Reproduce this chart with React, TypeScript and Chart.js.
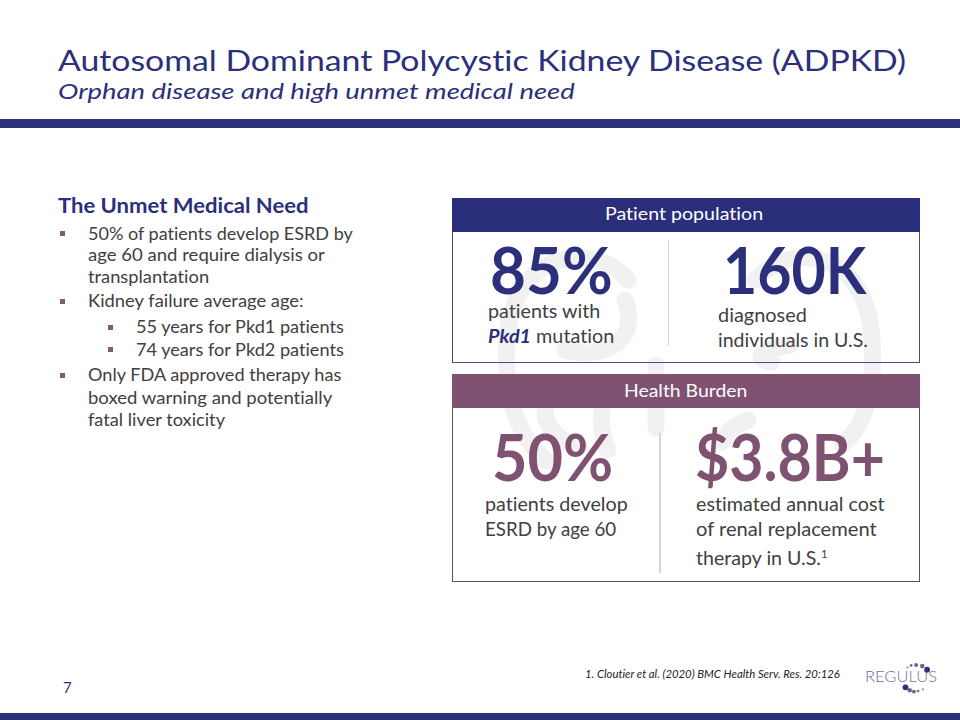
import React, { useEffect, useLayoutEffect, useRef, useState } from "react";
import { Chart, registerables } from "chart.js";

Chart.register(...registerables);

// ---- Data ----
const titleText = "Autosomal Dominant Polycystic Kidney Disease (ADPKD)";
const subtitleText = "Orphan disease and high unmet medical need";
const needHeading = "The Unmet Medical Need";
const kpiValues = ["85%", "160K", "50%", "$3.8B+"];
const boxHeaders = ["Patient population", "Health Burden"];
const footnote = "1. Cloutier et al. (2020) BMC Health Serv. Res. 20:126";
const pageNumber = "7";

// logo dots (scatter, in logo units)
const logoDotX = [13.7, 18, 24, 31.3, 37, 11.3, 16.3, 21.3, 26.3, 32];
const logoDotY = [13.7, 11.3, 10.7, 12, 16.3, 37.3, 40.7, 42.3, 41.7, 39.7];
const logoDotR = [1.1, 1.4, 1.9, 2.3, 2.9, 2.9, 2.3, 1.9, 1.4, 1.1];
const logoDotColor = ["#9a7f9c", "#8b6d8c", "#7d5b7c", "#7d5b7c", "#2b2f7e", "#2b2f7e", "#7d5b7c", "#7d5b7c", "#8b6d8c", "#9a7f9c"];

const NAVY = "#2b2f7c";
const PURPLE = "#7f5271";
const GRAY = "#404040";
const FONT = "Lato, 'Open Sans', sans-serif";

type TxtProps = {
  x: number;
  base: number;
  size: number;
  w?: number;
  lh?: number;
  weight?: number;
  italic?: boolean;
  color?: string;
  children: React.ReactNode;
};

function Txt({ x, base, size, w, lh = 1.05, weight = 400, italic = false, color = GRAY, children }: TxtProps) {
  const ref = useRef<HTMLSpanElement>(null);
  const [sx, setSx] = useState(1);
  useLayoutEffect(() => {
    if (w && ref.current) {
      const m = ref.current.offsetWidth;
      if (m > 0) setSx(w / m);
    }
  }, [w]);
  const L = lh * size;
  const top = base - ((L - 1.2 * size) / 2 + 0.987 * size);
  return (
    <span
      ref={ref}
      style={{
        position: "absolute",
        left: x,
        top,
        height: L,
        fontSize: size,
        lineHeight: `${L}px`,
        fontFamily: FONT,
        fontWeight: weight,
        fontStyle: italic ? "italic" : "normal",
        fontVariantLigatures: "none",
        color,
        whiteSpace: "nowrap",
        transform: `scaleX(${sx})`,
        transformOrigin: "0 0",
      }}
    >
      {children}
    </span>
  );
}

function Bullet({ x, base }: { x: number; base: number }) {
  return (
    <div
      style={{
        position: "absolute",
        left: x,
        top: base - 10,
        width: 5,
        height: 5,
        background: "#7d5b7a",
      }}
    />
  );
}

function Logo() {
  const ref = useRef<HTMLCanvasElement>(null);
  useEffect(() => {
    const chart = new Chart(ref.current as HTMLCanvasElement, {
      type: "scatter",
      data: {
        datasets: [
          {
            data: logoDotX.map((x, i) => ({ x, y: logoDotY[i] })),
            pointRadius: logoDotR,
            pointBackgroundColor: logoDotColor,
            pointBorderWidth: 0,
            showLine: false,
          } as any,
        ],
      },
      options: {
        responsive: false,
        animation: false,
        events: [],
        layout: { padding: 0 },
        plugins: { legend: { display: false }, tooltip: { enabled: false } },
        scales: {
          x: { type: "linear", min: 0, max: 50, display: false },
          y: { type: "linear", min: 0, max: 50, reverse: true, display: false },
        },
      },
    });
    return () => chart.destroy();
  }, []);
  return (
    <canvas
      ref={ref}
      width={50}
      height={50}
      style={{ position: "absolute", left: 892, top: 652, width: 50, height: 50 }}
    />
  );
}

function Watermark() {
  const s = { fill: "none", stroke: "#f1f1f1", strokeWidth: 17, strokeLinecap: "round" as const };
  return (
    <svg width={960} height={720} style={{ position: "absolute", left: 0, top: 0 }}>
      {/* left kidney */}
      <path d="M 628 280 C 595 240, 512 250, 507 340 C 503 400, 520 440, 548 462" {...s} />
      <path d="M 625 300 C 640 335, 610 362, 565 350" {...s} />
      <path d="M 548 400 C 538 420, 555 440, 580 447" {...s} />
      {/* right kidney */}
      <path d="M 755 280 C 790 240, 868 250, 872 340 C 876 400, 860 430, 842 445" {...s} />
      <path d="M 790 345 C 760 350, 752 360, 772 362" {...s} />
      <path d="M 748 420 C 735 425, 726 433, 722 442" {...s} />
      {/* centre stems */}
      <path d="M 602 405 C 600 425, 603 440, 608 450" {...s} />
      <path d="M 656 365 L 656 428" {...s} />
    </svg>
  );
}

export default function App() {
  return (
    <div
      style={{
        position: "absolute",
        left: 0,
        top: 0,
        width: 960,
        height: 720,
        overflow: "hidden",
        background: "#ffffff",
        fontFamily: FONT,
      }}
    >
      {/* Title */}
      <Txt x={58} base={72} size={28} w={848} color={NAVY}>{titleText}</Txt>
      <Txt x={58} base={99} size={22} w={517} italic color={NAVY}>{subtitleText}</Txt>
      <div style={{ position: "absolute", left: 0, top: 119, width: 960, height: 9, background: "#2a3079" }} />

      {/* Left column */}
      <Txt x={58} base={213.5} size={21} w={251} weight={700} color={NAVY}>{needHeading}</Txt>
      <Bullet x={60} base={241} />
      <Txt x={88} base={241} size={17.7} w={265}>50% of patients develop ESRD by</Txt>
      <Txt x={88} base={262.5} size={17.7} w={237}>age 60 and require dialysis or</Txt>
      <Txt x={88} base={284} size={17.7} w={121}>transplantation</Txt>
      <Bullet x={60} base={308.5} />
      <Txt x={88} base={308.5} size={17.7} w={216}>Kidney failure average age:</Txt>
      <Bullet x={108} base={334.5} />
      <Txt x={136} base={334.5} size={17.7} w={208}>55 years for Pkd1 patients</Txt>
      <Bullet x={108} base={357} />
      <Txt x={136} base={357} size={17.7} w={208}>74 years for Pkd2 patients</Txt>
      <Bullet x={60} base={382.5} />
      <Txt x={88} base={382.5} size={17.7} w={253}>Only FDA approved therapy has</Txt>
      <Txt x={88} base={405} size={17.7} w={244}>boxed warning and potentially</Txt>
      <Txt x={88} base={427.5} size={17.7} w={137}>fatal liver toxicity</Txt>

      <Watermark />

      {/* Box 1 */}
      <div
        style={{
          position: "absolute",
          left: 451.5,
          top: 197.5,
          width: 468,
          height: 165,
          boxSizing: "border-box",
          border: "1.5px solid #4a4c86",
        }}
      />
      <div style={{ position: "absolute", left: 451.5, top: 197.5, width: 468, height: 34, background: "#2b2e7b" }} />
      <Txt x={605} base={220.5} size={17} w={158} color="#ffffff">{boxHeaders[0]}</Txt>
      <div style={{ position: "absolute", left: 667.5, top: 240, width: 1.5, height: 106, background: "#d6d6d6" }} />
      <Txt x={490} base={295} size={65} lh={0.78} w={123} weight={700} color={NAVY}>{kpiValues[0]}</Txt>
      <Txt x={722.5} base={295} size={65} lh={0.78} w={143.5} weight={700} color={NAVY}>{kpiValues[1]}</Txt>
      <Txt x={488} base={318} size={19} w={112}>patients with</Txt>
      <Txt x={488} base={343} size={19} w={126}>
        <span style={{ fontWeight: 700, fontStyle: "italic", color: NAVY }}>Pkd1</span> mutation
      </Txt>
      <Txt x={718} base={322} size={19} w={89}>diagnosed</Txt>
      <Txt x={718} base={347.5} size={19} w={150}>individuals in U.S.</Txt>

      {/* Box 2 */}
      <div
        style={{
          position: "absolute",
          left: 451.5,
          top: 374,
          width: 468,
          height: 208,
          boxSizing: "border-box",
          border: "1.5px solid #555555",
        }}
      />
      <div style={{ position: "absolute", left: 451.5, top: 374, width: 468, height: 34, background: PURPLE }} />
      <Txt x={623.5} base={398} size={17} w={123} color="#ffffff">{boxHeaders[1]}</Txt>
      <div style={{ position: "absolute", left: 659, top: 433, width: 1.5, height: 140, background: "#d6d6d6" }} />
      <Txt x={491.5} base={481.5} size={65} lh={0.78} w={121.5} weight={700} color={PURPLE}>{kpiValues[2]}</Txt>
      <Txt x={695} base={481.5} size={65} lh={0.78} w={190} weight={700} color={PURPLE}>{kpiValues[3]}</Txt>
      <Txt x={485} base={511.5} size={19} w={143}>patients develop</Txt>
      <Txt x={485} base={536.5} size={19} w={131}>ESRD by age 60</Txt>
      <Txt x={696} base={511.5} size={19} w={189}>estimated annual cost</Txt>
      <Txt x={696} base={536.5} size={19} w={181}>of renal replacement</Txt>
      <Txt x={696} base={561.5} size={19} w={132}>
        therapy in U.S.<span style={{ fontSize: 11, verticalAlign: "7px" }}>1</span>
      </Txt>

      {/* Footer */}
      <Txt x={585} base={679} size={12} w={255} italic color="#222222">{footnote}</Txt>
      <Txt x={865} base={683.5} size={16.5} w={72} weight={300} color="#76689a">
        REG<span style={{ color: "#8c6c94" }}>ULUS</span>
      </Txt>
      <Logo />
      <Txt x={63} base={694} size={15} color={NAVY}>{pageNumber}</Txt>
      <div style={{ position: "absolute", left: 0, top: 712.5, width: 960, height: 8, background: "#2a3079" }} />
    </div>
  );
}
